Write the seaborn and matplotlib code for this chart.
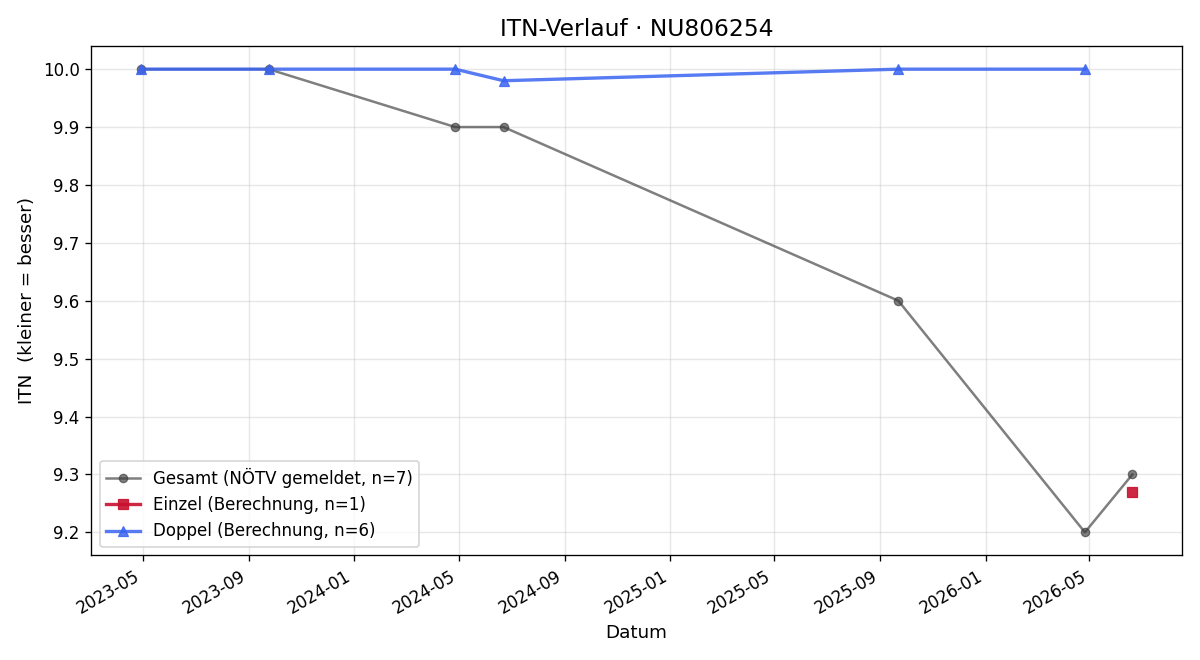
import pandas as pd
import numpy as np
import seaborn as sns
import matplotlib.pyplot as plt
import matplotlib.dates as mdates

# Daten
gesamt_datum = ['2023-04-29', '2023-09-24', '2024-04-27', '2024-06-22',
                '2025-09-22', '2026-04-26', '2026-06-20']
gesamt_itn = [10.0, 10.0, 9.9, 9.9, 9.6, 9.2, 9.3]

einzel_datum = ['2026-06-20']
einzel_itn = [9.27]

doppel_datum = ['2023-04-29', '2023-09-24', '2024-04-27', '2024-06-22',
                '2025-09-22', '2026-04-26']
doppel_itn = [10.0, 10.0, 10.0, 9.98, 10.0, 10.0]

df_gesamt = pd.DataFrame({'datum': pd.to_datetime(gesamt_datum), 'itn': gesamt_itn})
df_einzel = pd.DataFrame({'datum': pd.to_datetime(einzel_datum), 'itn': einzel_itn})
df_doppel = pd.DataFrame({'datum': pd.to_datetime(doppel_datum), 'itn': doppel_itn})

fig, ax = plt.subplots(figsize=(10, 5.5), dpi=120)

sns.lineplot(data=df_gesamt, x='datum', y='itn', ax=ax, color='#3a3a3a', alpha=0.65,
             marker='o', markersize=5, linewidth=1.5, markeredgecolor='#3a3a3a',
             label=f'Gesamt (NÖTV gemeldet, n={len(gesamt_itn)})')
sns.lineplot(data=df_einzel, x='datum', y='itn', ax=ax, color='#c8102e', alpha=0.9,
             marker='s', markersize=6, linewidth=2, markeredgecolor='#c8102e',
             label=f'Einzel (Berechnung, n={len(einzel_itn)})')
sns.lineplot(data=df_doppel, x='datum', y='itn', ax=ax, color='#3a64f0', alpha=0.85,
             marker='^', markersize=6, linewidth=2, markeredgecolor='#3a64f0',
             label=f'Doppel (Berechnung, n={len(doppel_itn)})')

ax.set_title('ITN-Verlauf · NU806254', fontsize=14)
ax.set_xlabel('Datum', fontsize=11)
ax.set_ylabel('ITN  (kleiner = besser)', fontsize=11)
ax.grid(True, alpha=0.3)
ax.xaxis.set_major_locator(mdates.MonthLocator(bymonth=[1, 5, 9]))
ax.xaxis.set_major_formatter(mdates.DateFormatter('%Y-%m'))
ax.legend(loc='lower left')
fig.autofmt_xdate()

plt.tight_layout()
plt.savefig('out.png')
